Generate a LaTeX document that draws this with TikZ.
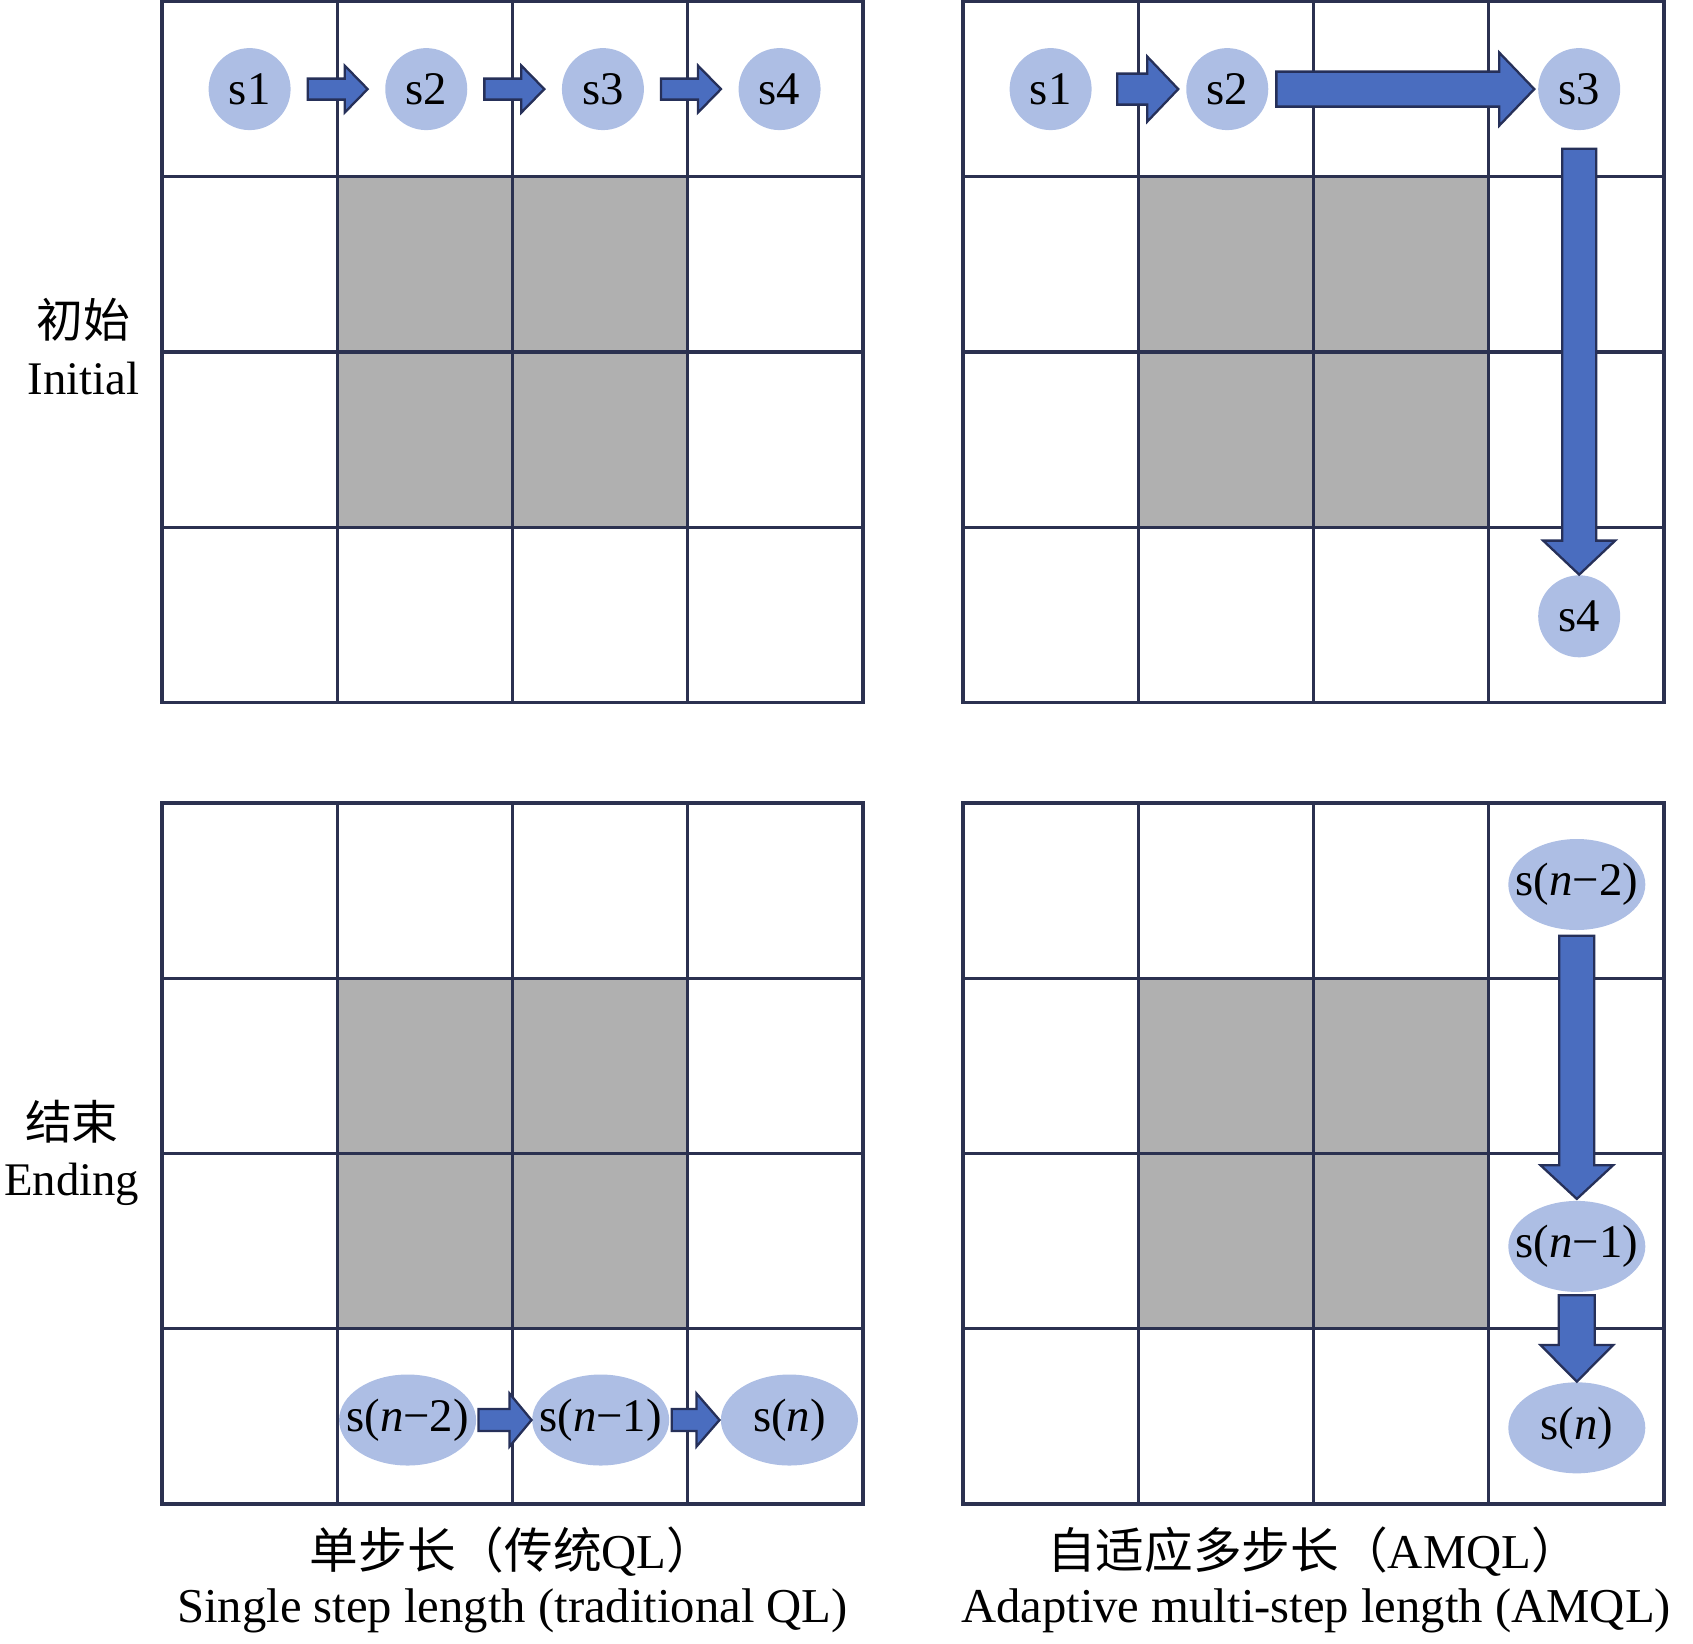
\documentclass[tikz,border=0pt]{standalone}
\usepackage{fontspec}
\setmainfont{Liberation Serif}
\newfontfamily\cjk{Noto Sans CJK SC}
\usetikzlibrary{calc,positioning,shapes.geometric}

\definecolor{gridnavy}{HTML}{2B3150}
\definecolor{blockgray}{HTML}{B0B0B0}
\definecolor{statefill}{HTML}{ADBEE4}
\definecolor{arrowblue}{HTML}{4A6DBF}
\definecolor{arrowedge}{HTML}{263059}

% fat block arrow between two anchors:
% #1 from, #2 to, #3/#4 gaps, #5 shaft half width, #6 head half width, #7 head length
\newcommand\fatarrow[7]{%
  \coordinate (fa-a) at ($(#1)!#3!(#2)$);
  \coordinate (fa-b) at ($(#2)!#4!(#1)$);
  \coordinate (fa-h) at ($(fa-b)!#7!(fa-a)$);
  \draw[fat] ($(fa-a)!#5!90:(fa-b)$) -- ($(fa-h)!#5!90:(fa-b)$) -- ($(fa-h)!#6!90:(fa-b)$)
    -- (fa-b) -- ($(fa-h)!#6!-90:(fa-b)$) -- ($(fa-h)!#5!-90:(fa-b)$) -- ($(fa-a)!#5!-90:(fa-b)$) -- cycle;
}

\begin{document}
\begin{tikzpicture}[
  x=1mm,y=-1mm,
  gridline/.style={draw=gridnavy,line width=0.33mm},
  blocked/.style={fill=blockgray},
  state/.style={circle,fill=statefill,minimum size=8.2mm,inner sep=0pt,font=\fontsize{13.3}{16}\selectfont},
  widestate/.style={ellipse,fill=statefill,minimum width=13.7mm,minimum height=9.1mm,inner sep=0pt,font=\fontsize{13.3}{16}\selectfont},
  fat/.style={fill=arrowblue,draw=arrowedge,line width=0.23mm},
  sidetext/.style={align=center,anchor=east,inner sep=0pt,font=\fontsize{13.3}{16}\selectfont},
  captext/.style={anchor=base,font=\fontsize{13.85}{16}\selectfont}
]
\useasboundingbox (0,0) rectangle (169.3,164.3);

% the four grids
\foreach \gx/\gy in {16.2/0.15,96.3/0.15,16.2/80.3,96.3/80.3}{
  \begin{scope}[shift={(\gx,\gy)}]
    \fill[blocked] (17.525,17.525) rectangle (52.575,52.575);
    \foreach \i in {1,2,3}{
      \draw[gridline] (\i*17.525,0) -- (\i*17.525,70.1);
      \draw[gridline] (0,\i*17.525) -- (70.1,\i*17.525);
    }
    \draw[gridline] (0,0) rectangle (70.1,70.1);
  \end{scope}
}

% initial, single step
\node[state] (ql1) at (24.96,8.91) {s1};
\node[state,right=9.325mm of ql1] (ql2) {s2};
\node[state,right=9.325mm of ql2] (ql3) {s3};
\node[state,right=9.325mm of ql3] (ql4) {s4};

% initial, adaptive
\node[state] (am1) at (105.06,8.91) {s1};
\node[state,right=9.325mm of am1] (am2) {s2};
\node[state,right=26.85mm of am2] (am3) {s3};
\node[state,below=44.38mm of am3] (am4) {s4};

% ending, single step
\node[widestate] (qlend1) at (60.07,142.0) {\makebox[0pt]{s(\textit{n}−1)}};
\node[widestate,left=5.47mm of qlend1] (qlend2) {\makebox[0pt]{s(\textit{n}−2)}};
\node[widestate,right=5.03mm of qlend1] (qlend0) {\makebox[0pt]{s(\textit{n})}};

% ending, adaptive
\node[widestate] (amend2) at (157.68,88.45) {\makebox[0pt]{s(\textit{n}−2)}};
\node[widestate,below=26.95mm of amend2] (amend1) {\makebox[0pt]{s(\textit{n}−1)}};
\node[widestate,below=8.9mm of amend1] (amend0) {\makebox[0pt]{s(\textit{n})}};

\fatarrow{ql1.east}{ql2.west}{1.64mm}{1.69mm}{1.05mm}{2.35mm}{2.3mm}
\fatarrow{ql2.east}{ql3.west}{1.64mm}{1.69mm}{1.05mm}{2.35mm}{2.3mm}
\fatarrow{ql3.east}{ql4.west}{1.64mm}{1.69mm}{1.05mm}{2.35mm}{2.3mm}

\fatarrow{am1.east}{am2.west}{2.49mm}{0.73mm}{1.55mm}{3.25mm}{3.1mm}
\fatarrow{am2.east}{am3.west}{0.74mm}{0.32mm}{1.75mm}{3.65mm}{3.5mm}
\fatarrow{am3.south}{am4.north}{1.8mm}{0mm}{1.7mm}{3.6mm}{3.4mm}

\fatarrow{qlend2.east}{qlend1.west}{0.16mm}{0mm}{1.1mm}{2.65mm}{2.2mm}
\fatarrow{qlend1.east}{qlend0.west}{0.18mm}{0.07mm}{1.1mm}{2.65mm}{2.3mm}

\fatarrow{amend2.south}{amend1.north}{0.5mm}{0.13mm}{1.75mm}{3.63mm}{3.37mm}
\fatarrow{amend1.south}{amend0.north}{0.26mm}{0mm}{1.8mm}{3.63mm}{3.66mm}

% row labels
\node[sidetext] (initlab) at (14.0,34.65) {{\cjk 初始}\\Initial};
\node[sidetext] (endlab) at (14.0,115.3) {{\cjk 结束}\\Ending};

% captions
\node[captext] (capqlcn) at (51.25,156.8) {{\cjk 单步长（传统}QL{\cjk ）}};
\node[captext] (capqlen) at (51.25,162.2) {Single step length (traditional QL)};
\node[captext] (capamcn) at (131.35,156.8) {{\cjk 自适应多步长（}AMQL{\cjk ）}};
\node[captext] (capamen) at (131.6,162.2) {Adaptive multi-step length (AMQL)};
\end{tikzpicture}
\end{document}
